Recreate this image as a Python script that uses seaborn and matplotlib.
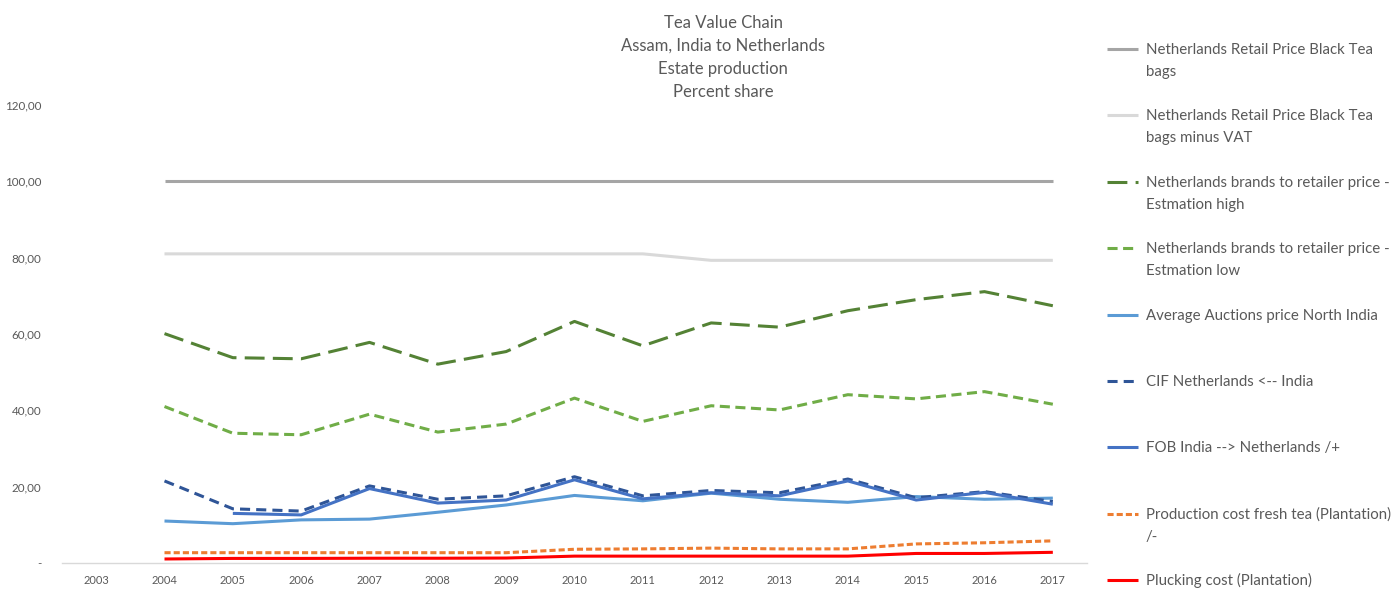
import numpy as np
import pandas as pd
import matplotlib
matplotlib.use("Agg")
import matplotlib.pyplot as plt
from matplotlib.lines import Line2D
import seaborn as sns

# ---------------- data ----------------
categories = [2003, 2004, 2005, 2006, 2007, 2008, 2009, 2010, 2011, 2012, 2013, 2014, 2015, 2016, 2017]
years = [2004, 2005, 2006, 2007, 2008, 2009, 2010, 2011, 2012, 2013, 2014, 2015, 2016, 2017]

retail = [100, 100, 100, 100, 100, 100, 100, 100, 100, 100, 100, 100, 100, 100]
retail_minus_vat = [81.0, 81.0, 81.0, 81.0, 81.0, 81.0, 81.0, 81.0, 79.3, 79.3, 79.3, 79.3, 79.3, 79.3]
brands_high = [60.1, 53.8, 53.5, 57.8, 52.1, 55.4, 63.3, 56.9, 62.9, 61.8, 66.1, 69.0, 71.1, 67.4]
brands_low = [41.0, 34.0, 33.6, 39.0, 34.3, 36.4, 43.2, 37.1, 41.2, 40.1, 44.1, 43.0, 44.9, 41.6]
auction = [11.0, 10.3, 11.3, 11.5, 13.3, 15.2, 17.7, 16.3, 18.3, 16.7, 15.9, 17.4, 16.7, 17.0]
cif = [21.5, 14.2, 13.6, 20.2, 16.7, 17.6, 22.6, 17.6, 19.0, 18.4, 22.0, 17.1, 18.7, 16.1]
fob = [np.nan, 13.0, 12.6, 19.5, 15.7, 16.5, 21.8, 16.8, 18.4, 17.6, 21.5, 16.5, 18.5, 15.4]
production_cost = [2.7, 2.7, 2.7, 2.7, 2.7, 2.7, 3.6, 3.7, 3.9, 3.7, 3.7, 5.0, 5.3, 5.8]
plucking_cost = [1.05, 1.2, 1.2, 1.25, 1.25, 1.3, 1.8, 1.8, 1.8, 1.8, 1.8, 2.5, 2.5, 2.8]

series_labels = [
    "Netherlands Retail Price Black Tea\nbags",
    "Netherlands Retail Price Black Tea\nbags minus VAT",
    "Netherlands brands to retailer price -\nEstmation high",
    "Netherlands brands to retailer price -\nEstmation low",
    "Average Auctions price North India",
    "CIF Netherlands <-- India",
    "FOB India --> Netherlands /+",
    "Production cost fresh tea (Plantation)\n/-",
    "Plucking cost (Plantation)",
]
series_values = [retail, retail_minus_vat, brands_high, brands_low, auction, cif, fob,
                 production_cost, plucking_cost]
title_lines = ["Tea Value Chain", "Assam, India to Netherlands", "Estate production", "Percent share"]
yticks = [0, 20, 40, 60, 80, 100, 120]

# ---------------- styles ----------------
colors = ["#A5A5A5", "#D9D9D9", "#548235", "#70AD47", "#5B9BD5", "#2F5597", "#4472C4",
          "#ED7D31", "#FF0000"]
dashes = [None, None, (6.5, 2.7), (3.3, 1.8), None, (3.3, 2.0), None, (2.0, 1.0), None]
LW = 2.2
TXT = "#595959"

sns.set_theme(style="white")
plt.rcParams["font.family"] = ["Lato", "DejaVu Sans"]

W, H = 1397, 590
fig = plt.figure(figsize=(W / 100, H / 100), dpi=100)
ax = fig.add_axes([62 / W, 1 - 563 / H, (1087 - 62) / W, (563 - 105) / H])

for vals, col, dsh in zip(series_values, colors, dashes):
    df = pd.DataFrame({"year": years, "value": vals}).dropna()
    sns.lineplot(data=df, x="year", y="value", ax=ax, color=col, linewidth=LW, legend=False)
    line = ax.lines[-1]
    line.set_solid_capstyle("butt")
    if dsh is not None:
        line.set_dashes(dsh)
        line.set_dash_capstyle("butt")

ax.set_xlim(categories[0] - 0.5, categories[-1] + 0.5)
ax.set_ylim(0, 120)
ax.set_xticks(categories)
ax.set_xticklabels([str(c) for c in categories], fontsize=8, color=TXT)
ax.set_yticks(yticks)
ax.set_yticklabels(["-" if v == 0 else f"{v:.2f}".replace(".", ",") for v in yticks],
                   fontsize=8.4, color=TXT)
ax.tick_params(axis="both", length=0)
ax.tick_params(axis="y", pad=15)
ax.tick_params(axis="x", pad=9)
ax.set_xlabel("")
ax.set_ylabel("")
ax.grid(False)
for s in ["top", "right", "left"]:
    ax.spines[s].set_visible(False)
ax.spines["bottom"].set_color("#D9D9D9")
ax.spines["bottom"].set_linewidth(1.0)

# title
for i, t in enumerate(title_lines):
    fig.text(723 / W, 1 - (23 + 23 * i) / H, t, ha="center", va="center",
             fontsize=12, color=TXT)

# legend (manual, Excel-style: handle aligned with first text line)
leg_y0 = 49
leg_dy = 66.4
for i, (lab, col, dsh) in enumerate(zip(series_labels, colors, dashes)):
    yc = leg_y0 + i * leg_dy
    ln = Line2D([1107 / W, 1138 / W], [1 - yc / H, 1 - yc / H], color=col, linewidth=LW,
                transform=fig.transFigure, solid_capstyle="butt", dash_capstyle="butt")
    if dsh is not None:
        ln.set_dashes(dsh)
    fig.add_artist(ln)
    for j, part in enumerate(lab.split("\n")):
        fig.text(1146 / W, 1 - (yc + 22 * j + 5) / H, part, ha="left", va="baseline",
                 fontsize=10.8, color=TXT)

fig.savefig("out.png", dpi=100, facecolor="white")
